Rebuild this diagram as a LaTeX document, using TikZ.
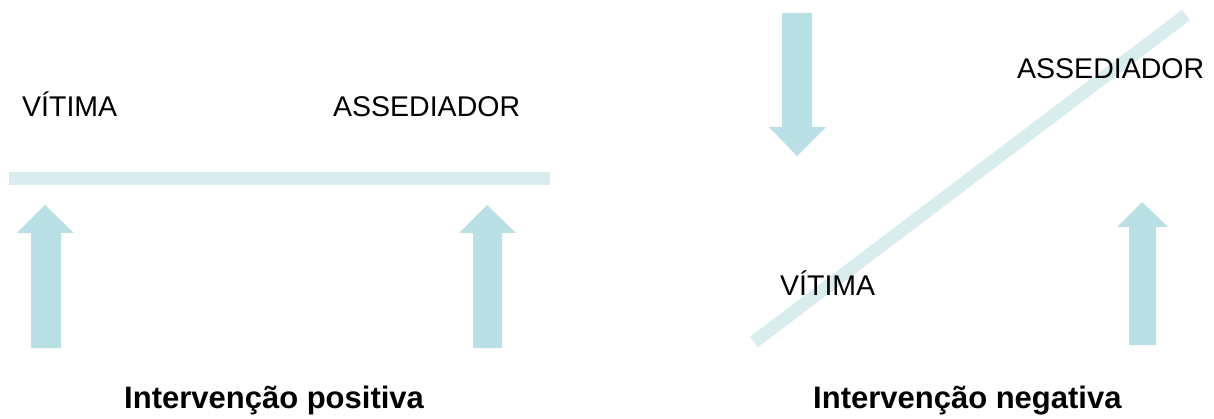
\documentclass[tikz,border=0pt]{standalone}
\usepackage{fontspec}
\setmainfont{Liberation Sans}
\definecolor{arrowc}{RGB}{185,224,228}
\definecolor{barc}{RGB}{217,237,239}
\begin{document}
\begin{tikzpicture}[x=1pt,y=-1pt,
  lbl/.style={anchor=base west,inner sep=0pt,font=\fontsize{28.5}{32}\selectfont},
  ttl/.style={anchor=base west,inner sep=0pt,font=\fontsize{31}{36}\selectfont\bfseries},
  bar/.style={draw=barc,line width=13pt,line cap=butt},
  arr/.style={fill=arrowc,draw=none}]
\useasboundingbox (0,0) rectangle (1214,419);
% left panel
\draw[bar] (9,179) -- (550,179);
\fill[arr] (31,348) -- (31,233) -- (17,233) -- (45,205) -- (74,233) -- (61,233) -- (61,348) -- cycle;
\fill[arr] (473,348) -- (473,233) -- (459,233) -- (487,205) -- (516,233) -- (502,233) -- (502,348) -- cycle;
\node[lbl] (v1) at (22,117) {VÍTIMA};
\node[lbl] (a1) at (333,117) {ASSEDIADOR};
\node[ttl] (t1) at (124,408) {Intervenção positiva};
% right panel
\draw[bar] (754,342) -- (1186,15);
\fill[arr] (782,13) -- (812,13) -- (812,127) -- (826,127) -- (797,156) -- (769,127) -- (782,127) -- cycle;
\fill[arr] (1129,345) -- (1129,227) -- (1117,227) -- (1142,202) -- (1168,227) -- (1156,227) -- (1156,345) -- cycle;
\node[lbl] (v2) at (780,296) {VÍTIMA};
\node[lbl] (a2) at (1017,79) {ASSEDIADOR};
\node[ttl] (t2) at (813,408) {Intervenção negativa};
\end{tikzpicture}
\end{document}
